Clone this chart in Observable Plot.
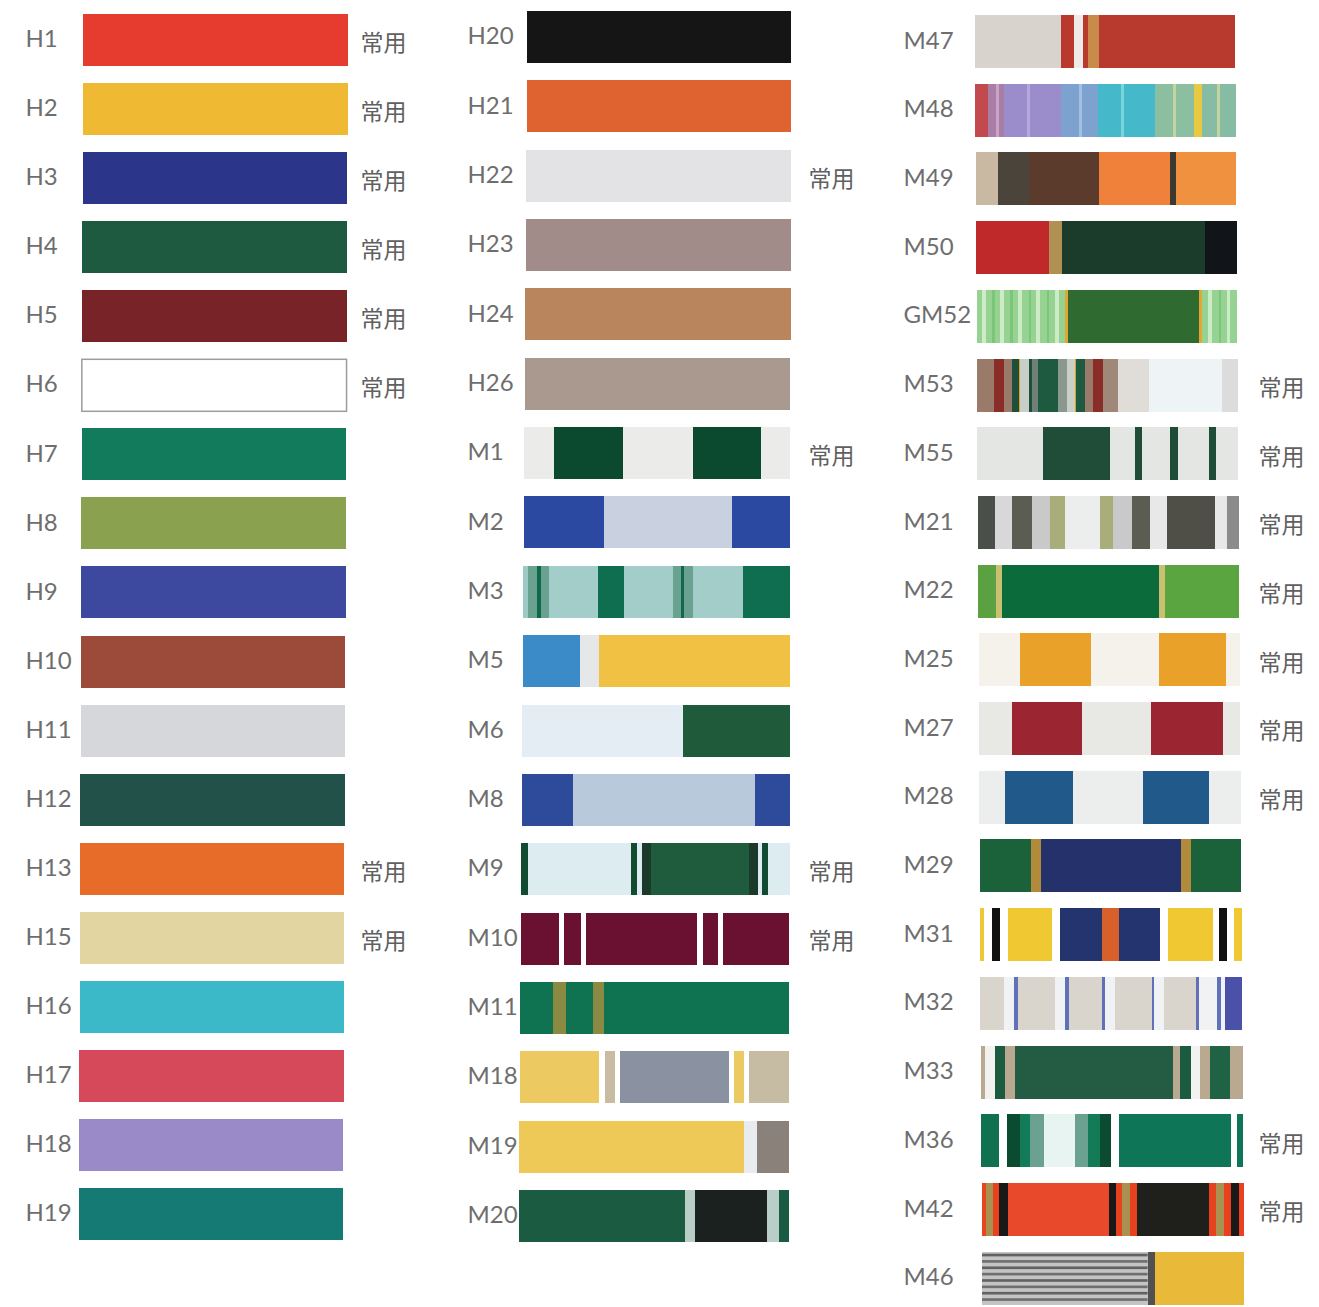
<!DOCTYPE html>
<html><head><meta charset="utf-8">
<script src="https://cdn.jsdelivr.net/npm/d3@7"></script>
<script src="https://cdn.jsdelivr.net/npm/@observablehq/plot@0.6"></script>
<style>html,body{margin:0;padding:0;background:#fff;} #chart svg{display:block}</style>
</head><body><div id="chart"></div>
<script>
// ---- data ----
const column1 = ["H1","H2","H3","H4","H5","H6","H7","H8","H9","H10","H11","H12","H13","H15","H16","H17","H18","H19"];
const column2 = ["H20","H21","H22","H23","H24","H26","M1","M2","M3","M5","M6","M8","M9","M10","M11","M18","M19","M20"];
const column3 = ["M47","M48","M49","M50","GM52","M53","M55","M21","M22","M25","M27","M28","M29","M31","M32","M33","M36","M42","M46"];
const commonUse = ["H1","H2","H3","H4","H5","H6","H13","H15","H22","M1","M9","M10","M53","M55","M21","M22","M25","M27","M28","M36","M42"];
const commonText = "常用";
// vertical stripe table: [code, from % of width, to % of width, colour]
const stripeTable = [
  ["H1",0,100,"#e63c2f"],["H2",0,100,"#f0b933"],["H3",0,100,"#2b3589"],["H4",0,100,"#1e5a3f"],
  ["H5",0,100,"#782327"],["H6",0,100,"#ffffff"],["H7",0,100,"#117b5b"],["H8",0,100,"#8aa150"],
  ["H9",0,100,"#3d489f"],["H10",0,100,"#9c4b3a"],["H11",0,100,"#d5d7db"],["H12",0,100,"#22514a"],
  ["H13",0,100,"#e76c2a"],["H15",0,100,"#e3d5a2"],["H16",0,100,"#3cb9c9"],["H17",0,100,"#d6495b"],
  ["H18",0,100,"#9b8ac8"],["H19",0,100,"#157a74"],
  ["H20",0,100,"#151515"],["H21",0,100,"#df6331"],["H22",0,100,"#e3e3e5"],["H23",0,100,"#a28c89"],
  ["H24",0,100,"#b9855d"],["H26",0,100,"#a9998f"],
  ["M1",0,11.2,"#ebebea"],["M1",11.2,37,"#0b4a2f"],["M1",37,63.3,"#ebebea"],["M1",63.3,89.1,"#0b4a2f"],["M1",89.1,100,"#ebebea"],
  ["M2",0,30.2,"#2b49a0"],["M2",30.2,78,"#c9d1e0"],["M2",78,100,"#2b49a0"],
  ["M3",0,1.9,"#9ec9c5"],["M3",1.9,5,"#6aa191"],["M3",5,6.8,"#0e6a4a"],["M3",6.8,9.5,"#6aa191"],["M3",9.5,28,"#a3cdc9"],
  ["M3",28,37.7,"#0f6e50"],["M3",37.7,56.3,"#a3cdc9"],["M3",56.3,59,"#6aa191"],["M3",59,60.4,"#0e6a4a"],["M3",60.4,63.6,"#6aa191"],
  ["M3",63.6,82.3,"#a3cdc9"],["M3",82.3,100,"#0f6e50"],
  ["M5",0,21.3,"#3b8bc9"],["M5",21.3,28.7,"#e5e7e9"],["M5",28.7,100,"#f0c142"],
  ["M6",0,60,"#e3edf3"],["M6",60,100,"#1f5a3b"],
  ["M8",0,19,"#2e4b9b"],["M8",19,87,"#b9c9dc"],["M8",87,100,"#2e4b9b"],
  ["M9",0,2.6,"#114b31"],["M9",2.6,40.8,"#dcecf0"],["M9",40.8,43.1,"#114b31"],["M9",43.1,44.9,"#dcecf0"],["M9",44.9,48.3,"#1b3a29"],
  ["M9",48.3,85,"#1f5b3d"],["M9",85,88.4,"#1b3a29"],["M9",88.4,89.9,"#dcecf0"],["M9",89.9,92.1,"#114b31"],["M9",92.1,100,"#dcecf0"],
  ["M10",0,14.2,"#6a1131"],["M10",14.2,16,"#ffffff"],["M10",16,22.4,"#6a1131"],["M10",22.4,24.3,"#ffffff"],["M10",24.3,65.7,"#6a1131"],
  ["M10",65.7,67.9,"#ffffff"],["M10",67.9,73.5,"#6a1131"],["M10",73.5,75.4,"#ffffff"],["M10",75.4,100,"#6a1131"],
  ["M11",0,12.3,"#0f7251"],["M11",12.3,16.8,"#8b8a42"],["M11",16.8,26.9,"#0f7251"],["M11",26.9,31,"#8b8a42"],["M11",31,100,"#0f7251"],
  ["M18",0,29.4,"#edc962"],["M18",29.4,31.6,"#ffffff"],["M18",31.6,35.3,"#c8bda2"],["M18",35.3,37.2,"#ffffff"],["M18",37.2,77.7,"#8a92a2"],
  ["M18",77.7,79.6,"#ffffff"],["M18",79.6,83.3,"#edc962"],["M18",83.3,85.1,"#ffffff"],["M18",85.1,100,"#c6bca3"],
  ["M19",0,83.3,"#efc957"],["M19",83.3,88.1,"#e8ecee"],["M19",88.1,100,"#8b817b"],
  ["M20",0,61.5,"#1b5b41"],["M20",61.5,65.2,"#b9cdc9"],["M20",65.2,91.9,"#1b211f"],["M20",91.9,96.3,"#b9cdc9"],["M20",96.3,100,"#1b5b41"],
  ["M47",0,33,"#d9d3ce"],["M47",33,38,"#b9392d"],["M47",38,41.5,"#efebe6"],["M47",41.5,43.5,"#b9392d"],["M47",43.5,47.5,"#c98b4c"],["M47",47.5,100,"#b83a2f"],
  ["M48",0,5,"#c24a4e"],["M48",5,11,"#a97ea6"],["M48",11,33,"#9b8dcb"],["M48",33,47,"#7ea2cf"],["M48",47,69,"#45b9c9"],
  ["M48",69,84,"#8cbfa0"],["M48",84,87,"#e8c942"],["M48",87,100,"#86bca3"],
  ["M48",8,9,"#c9a4c8"],["M48",20,21,"#b4a8dc"],["M48",40,41,"#a2c0e0"],["M48",56,57,"#7ad4dc"],["M48",76,77,"#c4d4a0"],["M48",93,94,"#c4d4a0"],
  ["M49",0,8.5,"#c9b9a2"],["M49",8.5,20.5,"#4b443b"],["M49",20.5,47.5,"#5b3b2b"],["M49",47.5,74.5,"#f0813a"],["M49",74.5,77,"#3b3a30"],["M49",77,100,"#ef913f"],
  ["M50",0,28,"#c0292a"],["M50",28,33,"#b09053"],["M50",33,88,"#1b3b2b"],["M50",88,100,"#11151a"],
  ["GM52",0,34,"#96d392"],["GM52",2,3.5,"#cdebc4"],["GM52",6,7,"#7cc679"],["GM52",9,10.5,"#cdebc4"],["GM52",13,14,"#7cc679"],
  ["GM52",16,17.5,"#cdebc4"],["GM52",20,21,"#7cc679"],["GM52",23,24.5,"#cdebc4"],["GM52",27,28,"#7cc679"],["GM52",30,31.5,"#cdebc4"],
  ["GM52",34,35,"#e4a632"],["GM52",35,85.5,"#2f6b30"],["GM52",85.5,86.5,"#e4a632"],["GM52",86.5,100,"#96d392"],
  ["GM52",89,90.5,"#cdebc4"],["GM52",93,94,"#7cc679"],["GM52",96,97.5,"#cdebc4"],
  ["M53",0,6.5,"#9a7b69"],["M53",6.5,10.5,"#8a2c28"],["M53",10.5,13.5,"#9a7b69"],["M53",13.5,16,"#1d4f3c"],["M53",16,16.6,"#e0a020"],
  ["M53",16.6,20,"#c8cec8"],["M53",20,21,"#1d4f3c"],["M53",21,23.5,"#6f8078"],["M53",23.5,31,"#1e5a40"],["M53",31,34.5,"#8a9890"],
  ["M53",34.5,37.5,"#c8d0c8"],["M53",37.5,38.1,"#e0a020"],["M53",38.1,41.5,"#1e5a40"],["M53",41.5,44.5,"#9a7b69"],["M53",44.5,48.5,"#8a2c28"],
  ["M53",48.5,54,"#a08878"],["M53",54,66,"#e0ddd8"],["M53",66,94,"#eef3f6"],["M53",94,100,"#dcdcdc"],
  ["M55",0,25,"#e4e6e4"],["M55",25,51,"#1f4d38"],["M55",51,60.5,"#e4e6e4"],["M55",60.5,63,"#1f4d38"],["M55",63,74,"#e4e6e4"],
  ["M55",74,77,"#1f4d38"],["M55",77,89,"#e4e6e4"],["M55",89,91.5,"#1f4d38"],["M55",91.5,100,"#e4e6e4"],
  ["M21",0,6.5,"#4b4f49"],["M21",6.5,13.3,"#d8d8d8"],["M21",13.3,20.7,"#5b5d53"],["M21",20.7,27.7,"#c9c9c9"],["M21",27.7,33.3,"#a9ad79"],
  ["M21",33.3,46.7,"#eceeee"],["M21",46.7,51.9,"#a9ad79"],["M21",51.9,59.3,"#c9c9c9"],["M21",59.3,65.9,"#5b5d53"],["M21",65.9,72.6,"#e8e8e8"],
  ["M21",72.6,91.1,"#4f4f47"],["M21",91.1,95.6,"#e8e8e8"],["M21",95.6,100,"#8b8b89"],
  ["M22",0,7,"#5ba141"],["M22",7,9,"#c9c171"],["M22",9,69.5,"#0b6b3b"],["M22",69.5,71.5,"#c9c171"],["M22",71.5,100,"#5ba541"],
  ["M25",0,16,"#f4f2ea"],["M25",16,43,"#e9a129"],["M25",43,69,"#f4f2ea"],["M25",69,95,"#e9a129"],["M25",95,100,"#f4f2ea"],
  ["M27",0,12.5,"#e8e8e4"],["M27",12.5,39.5,"#9b2531"],["M27",39.5,66,"#e8e8e4"],["M27",66,93.5,"#9b2531"],["M27",93.5,100,"#e8e8e4"],
  ["M28",0,10,"#eceeee"],["M28",10,36,"#20598a"],["M28",36,62.5,"#eceeee"],["M28",62.5,88,"#20598a"],["M28",88,100,"#eceeee"],
  ["M29",0,19.5,"#1b6139"],["M29",19.5,23.5,"#b18b3b"],["M29",23.5,77,"#24316b"],["M29",77,81,"#b18b3b"],["M29",81,100,"#1b6139"],
  ["M31",0,1.5,"#f0c831"],["M31",4.5,7.5,"#111111"],["M31",10.5,27.5,"#f0c831"],["M31",30.5,46.5,"#23346f"],["M31",46.5,53,"#d8612b"],
  ["M31",53,69,"#23346f"],["M31",72,89,"#f0c831"],["M31",91.5,94.5,"#111111"],["M31",97,100,"#f0c831"],
  ["M32",0,9,"#d9d5cd"],["M32",9,13,"#f0f2f4"],["M32",13,14.5,"#6171b9"],["M32",14.5,28.5,"#d9d5cd"],["M32",28.5,32.5,"#f0f2f4"],
  ["M32",32.5,34,"#6171b9"],["M32",34,46.5,"#d9d5cd"],["M32",46.5,47.5,"#6171b9"],["M32",47.5,51.5,"#f0f2f4"],["M32",51.5,65.5,"#d9d5cd"],
  ["M32",65.5,66.5,"#6171b9"],["M32",66.5,70,"#f0f2f4"],["M32",70,82.5,"#d9d5cd"],["M32",82.5,83.5,"#6171b9"],["M32",83.5,90.5,"#f0f2f4"],
  ["M32",90.5,92,"#6171b9"],["M32",92,93.5,"#f0f2f4"],["M32",93.5,100,"#4b51a9"],
  ["M33",0,1.5,"#b9a991"],["M33",1.5,5.3,"#f2f2f0"],["M33",5.3,9.2,"#1b5b3f"],["M33",9.2,13,"#b9a991"],["M33",13,73.3,"#245b43"],
  ["M33",73.3,76.3,"#b9a991"],["M33",76.3,80.2,"#1b5b3f"],["M33",80.2,83.6,"#f2f2f0"],["M33",83.6,87.4,"#b9a991"],["M33",87.4,95.4,"#1f6244"],
  ["M33",95.4,100,"#b9a991"],
  ["M36",0,6.8,"#107151"],["M36",9.9,14.8,"#0b4b31"],["M36",14.8,18.6,"#147b59"],["M36",18.6,24,"#6ba191"],["M36",24,35.7,"#e8f4f2"],
  ["M36",35.7,40.7,"#6ba191"],["M36",40.7,45.2,"#147b59"],["M36",45.2,49.4,"#0b4b31"],["M36",52.5,95.4,"#0f7557"],["M36",97.7,100,"#0f7557"],
  ["M42",0,1.5,"#e8441f"],["M42",1.5,4.2,"#a99151"],["M42",4.2,6.8,"#e8411f"],["M42",6.8,9.9,"#191919"],["M42",9.9,48.7,"#e9492b"],
  ["M42",48.7,51.3,"#191919"],["M42",51.3,53.6,"#e8411f"],["M42",53.6,56.7,"#a99151"],["M42",56.7,59.3,"#e8411f"],["M42",59.3,86.7,"#1f1f1b"],
  ["M42",86.7,89.4,"#e8411f"],["M42",89.4,92.4,"#a99151"],["M42",92.4,95.1,"#e8411f"],["M42",95.1,98.1,"#191919"],["M42",98.1,100,"#e8411f"],
  ["M46",0,63.2,"#c4c4c4"],["M46",63.2,66,"#515151"],["M46",66,100,"#e9b939"]
];
// horizontal weave lines: [code, from % of width, to % of width, from % of height, to % of height, colour]
const weaveTable = [
  ["M46",0,63.2,4,9,"#4a4a4a"],["M46",0,63.2,16,21,"#5a5a5a"],["M46",0,63.2,28,33,"#4a4a4a"],["M46",0,63.2,40,45,"#5a5a5a"],
  ["M46",0,63.2,52,57,"#4a4a4a"],["M46",0,63.2,64,69,"#5a5a5a"],["M46",0,63.2,76,81,"#4a4a4a"],["M46",0,63.2,88,93,"#5a5a5a"]
];

// ---- layout (per column) ----
const layout = [
  {labelX: 25,  commonX: 360,  left0: 83,  left1: 79,  width0: 265, width1: 264, top: 14, pitch: 69.06, h: 52},
  {labelX: 467, commonX: 808,  left0: 527, left1: 519, width0: 264, width1: 270, top: 11, pitch: 69.35, h: 52},
  {labelX: 903, commonX: 1258, left0: 975, left1: 982, width0: 260, width1: 262, top: 15, pitch: 68.7,  h: 53}
];
const columns = [column1, column2, column3];
const swatches = columns.flatMap((codes, col) => codes.map((code, row) => {
  const L = layout[col];
  const t = row / (codes.length - 1);
  const left = L.left0 + (L.left1 - L.left0) * t;
  const width = L.width0 + (L.width1 - L.width0) * t;
  const top = L.top + L.pitch * row;
  return {code, col, row, left, right: left + width, width, top, bottom: top + L.h, height: L.h, mid: top + L.h / 2,
          labelX: L.labelX, commonX: L.commonX, common: commonUse.includes(code)};
}));
const byCode = new Map(swatches.map(s => [s.code, s]));
const stripes = stripeTable.map(([code, a, b, color]) => {
  const s = byCode.get(code);
  return {code, x1: s.left + s.width * a / 100, x2: s.left + s.width * b / 100, y1: s.top, y2: s.bottom, color};
});
const weave = weaveTable.map(([code, a, b, c, d, color]) => {
  const s = byCode.get(code);
  return {code, x1: s.left + s.width * a / 100, x2: s.left + s.width * b / 100,
          y1: s.top + s.height * c / 100, y2: s.top + s.height * d / 100, color};
});

const chart = Plot.plot({
  width: 1319, height: 1307, margin: 0,
  x: {domain: [0, 1319], range: [0, 1319], axis: null},
  y: {domain: [0, 1307], range: [0, 1307], axis: null},
  color: {type: "identity"},
  marks: [
    Plot.rect(stripes, {x1: "x1", x2: "x2", y1: "y1", y2: "y2", fill: "color", shapeRendering: "crispEdges"}),
    Plot.rect(weave, {x1: "x1", x2: "x2", y1: "y1", y2: "y2", fill: "color", fillOpacity: 0.8}),
    Plot.rect(swatches.filter(s => s.code === "H6"), {x1: "left", x2: "right", y1: "top", y2: "bottom", fill: "none", stroke: "#9c9c9c", strokeWidth: 1.5}),
    Plot.text(swatches, {x: "labelX", y: "mid", text: "code", textAnchor: "start", fontSize: 24, fontFamily: "Lato", fontWeight: 400, fill: "#6e6e6e", dy: -1}),
    Plot.text(swatches.filter(s => s.common), {x: "commonX", y: "mid", text: () => commonText, textAnchor: "start", fontSize: 23, fontFamily: "Noto Sans CJK SC", fontWeight: 400, fill: "#606060", dy: 3})
  ]
});
document.getElementById("chart").append(chart);
</script>
</body></html>
